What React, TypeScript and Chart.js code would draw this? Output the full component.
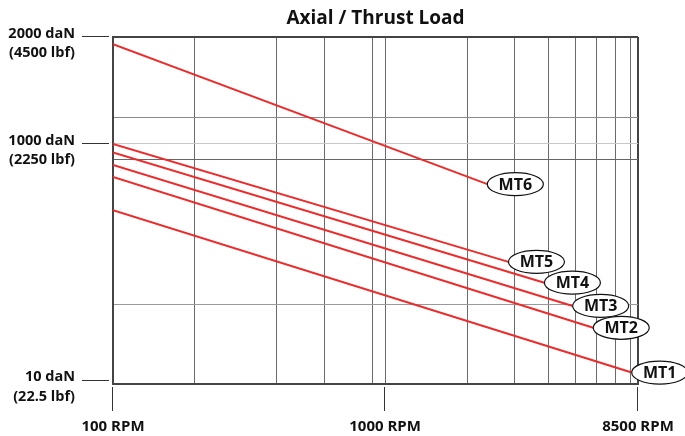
import React, { useEffect, useRef } from 'react';
import { Chart, registerables } from 'chart.js';

Chart.register(...registerables);

const FONT = '"Open Sans", Lato, "DejaVu Sans", sans-serif';

// Series (MT1..MT6): each line runs from 100 RPM to its end speed
const seriesNames = ['MT1', 'MT2', 'MT3', 'MT4', 'MT5', 'MT6'];
const startRpm = [100, 100, 100, 100, 100, 100];
const endRpm = [8060, 5820, 4890, 3850, 2840, 2375];
// load position on the chart's (schematic) vertical load scale, 0 = bottom, 100 = top
const startLoad = [50.1, 59.7, 63.1, 66.7, 69.2, 97.9];
const endLoad = [3.3, 16.2, 22.5, 29.2, 35.2, 57.6];

// X axis (log RPM)
const xGridRpm = [100, 200, 400, 600, 900, 1000, 2000, 3000, 4000, 5000, 6000, 7000, 8000, 8500];
const xLabelRpm = [100, 1000, 8500];
const xLabels = ['100 RPM', '1000 RPM', '8500 RPM'];

// Y axis (schematic load scale)
const yGrid = [0, 23.0, 64.8, 69.2, 76.9, 100];
const yLabelValues = [1, 69.2, 100];
const yLabels = [
  ['10 daN', '(22.5 lbf)'],
  ['1000 daN', '(2250 lbf)'],
  ['2000 daN', '(4500 lbf)'],
];

const TITLE = 'Axial / Thrust Load';

function yGridStyle(v: number): [string, number] {
  if (v === 100) return ['#444', 2];
  if (v === 0 || v === 1) return ['rgba(0,0,0,0)', 1];
  if (v === 69.2) return ['#c8c8c8', 1];
  if (v === 76.9) return ['#8a8a8a', 1];
  if (v === 23.0) return ['#9a9a9a', 1];
  return ['#666', 1];
}

function xGridStyle(v: number): [string, number] {
  if (v === 8500) return ['#444', 2];
  if (v === 100) return ['rgba(0,0,0,0)', 1];
  return ['#6a6a6a', 1];
}

const tagPlugin = {
  id: 'seriesTags',
  afterDatasetsDraw(chart: any) {
    const ctx = chart.ctx;
    chart.data.datasets.forEach((ds: any, i: number) => {
      const meta = chart.getDatasetMeta(i);
      const pt = meta.data[meta.data.length - 1];
      const rx = 28;
      const ry = 11.5;
      const cx = pt.x + rx;
      const cy = pt.y;
      ctx.save();
      ctx.beginPath();
      ctx.ellipse(cx, cy, rx, ry, 0, 0, Math.PI * 2);
      ctx.fillStyle = '#fff';
      ctx.fill();
      ctx.lineWidth = 1.2;
      ctx.strokeStyle = '#111';
      ctx.stroke();
      ctx.fillStyle = '#111';
      ctx.font = `bold 16px ${FONT}`;
      ctx.textAlign = 'center';
      ctx.textBaseline = 'middle';
      ctx.fillText(ds.label, cx, cy + 1);
      ctx.restore();
    });
  },
};

const tickMarkPlugin = {
  id: 'tickMarks',
  afterDraw(chart: any) {
    const { ctx, chartArea, scales } = chart;
    ctx.save();
    ctx.strokeStyle = '#333';
    ctx.lineWidth = 1;
    yLabelValues.forEach((v) => {
      const y = Math.round(scales.y.getPixelForValue(v)) - 0.5;
      ctx.beginPath();
      ctx.moveTo(chartArea.left - 31, y);
      ctx.lineTo(chartArea.left - 4, y);
      ctx.stroke();
    });
    xLabelRpm.forEach((v) => {
      const x = Math.round(scales.x.getPixelForValue(v)) - 0.5;
      ctx.beginPath();
      ctx.moveTo(x, chartArea.bottom + 3);
      ctx.lineTo(x, chartArea.bottom + 27);
      ctx.stroke();
    });
    ctx.restore();
  },
};

export default function App() {
  const ref = useRef<HTMLCanvasElement | null>(null);

  useEffect(() => {
    if (!ref.current) return;
    const datasets = seriesNames.map((name, i) => ({
      label: name,
      data: [
        { x: startRpm[i], y: startLoad[i] },
        { x: endRpm[i], y: endLoad[i] },
      ],
      borderColor: '#ee2b2b',
      backgroundColor: '#ee2b2b',
      borderWidth: 2,
      pointRadius: 0,
      tension: 0,
      fill: false,
    }));
    const yTicks = Array.from(new Set([...yGrid, ...yLabelValues])).sort((a, b) => a - b);

    const chart = new Chart(ref.current, {
      type: 'line',
      data: { datasets },
      plugins: [tagPlugin, tickMarkPlugin],
      options: {
        responsive: false,
        animation: false,
        layout: { padding: { left: 0, right: 47, top: 0, bottom: 0 } },
        plugins: {
          legend: { display: false },
          tooltip: { enabled: false },
          title: {
            display: true,
            text: TITLE,
            fullSize: false,
            align: 'center',
            color: '#111',
            font: { family: FONT, weight: 'bold', size: 19, lineHeight: 1.2 },
            padding: { top: 7.5, bottom: 6.7 },
          },
        },
        scales: {
          x: {
            type: 'logarithmic',
            min: 100,
            max: 8500,
            afterBuildTicks: (s: any) => {
              s.ticks = xGridRpm.map((v) => ({ value: v }));
            },
            afterFit: (s: any) => {
              s.height = 52;
              s.paddingLeft = 0;
              s.paddingRight = 0;
            },
            border: { display: true, color: '#444', width: 2 },
            grid: {
              drawTicks: false,
              color: (c: any) => xGridStyle(c.tick.value)[0],
              lineWidth: (c: any) => xGridStyle(c.tick.value)[1],
            },
            ticks: {
              autoSkip: false,
              maxRotation: 0,
              minRotation: 0,
              padding: 33.5,
              color: '#111',
              font: { family: FONT, weight: 'bold', size: 15, lineHeight: 1.2 },
              callback: (value: any) => {
                const i = xLabelRpm.indexOf(Number(value));
                return i >= 0 ? xLabels[i] : '';
              },
            },
          },
          y: {
            type: 'linear',
            min: 0,
            max: 100,
            afterBuildTicks: (s: any) => {
              s.ticks = yTicks.map((v) => ({ value: v }));
            },
            afterFit: (s: any) => {
              s.width = 113;
              s.paddingTop = 0;
              s.paddingBottom = 0;
            },
            border: { display: true, color: '#444', width: 2 },
            grid: {
              drawTicks: false,
              color: (c: any) => yGridStyle(c.tick.value)[0],
              lineWidth: (c: any) => yGridStyle(c.tick.value)[1],
            },
            ticks: {
              autoSkip: false,
              padding: 38,
              labelOffset: 6.5,
              color: '#111',
              font: { family: FONT, weight: 'bold', size: 14.5, lineHeight: 1.35 },
              callback: (value: any) => {
                const i = yLabelValues.indexOf(Number(value));
                return i >= 0 ? yLabels[i] : '';
              },
            },
          },
        },
      } as any,
    });
    return () => chart.destroy();
  }, []);

  return (
    <div style={{ position: 'fixed', left: 0, top: 0, width: 685, height: 436, background: '#fff' }}>
      <canvas ref={ref} width={685} height={436} style={{ display: 'block' }} />
    </div>
  );
}
